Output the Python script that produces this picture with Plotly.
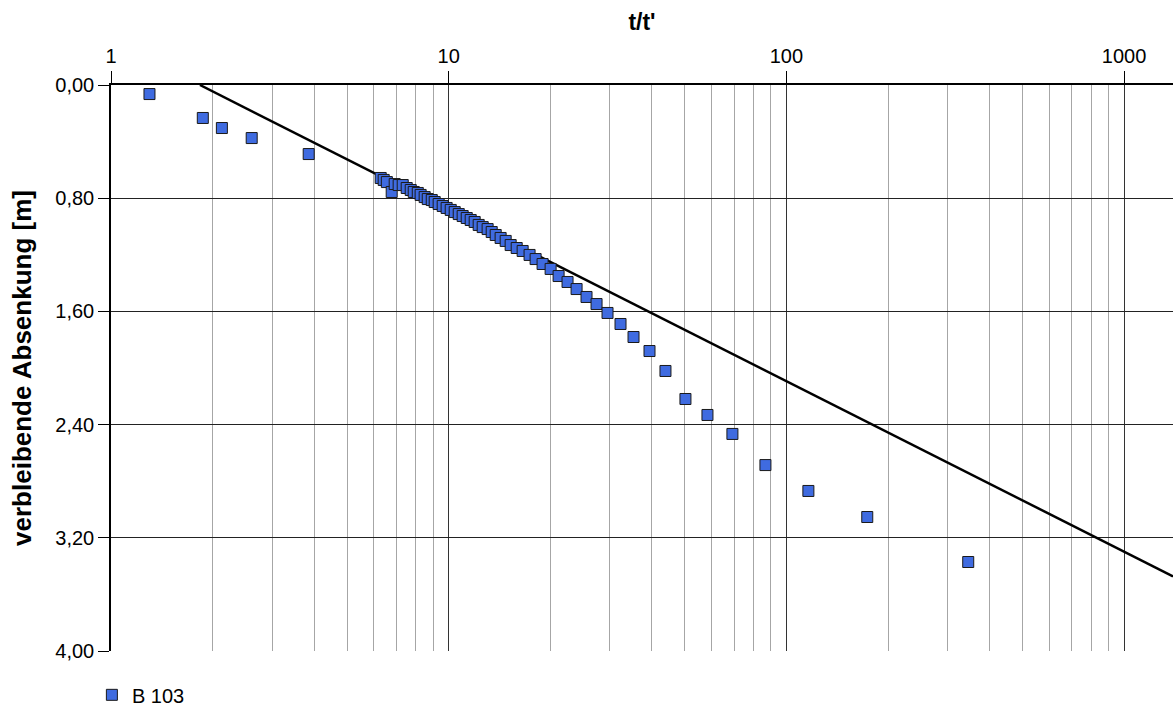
import plotly.graph_objects as go

# data: t/t' and residual drawdown (m)
t_ratio = [1.30, 1.87, 2.13, 2.61, 3.85,
           6.29, 6.42, 6.56, 6.78, 6.92, 7.11, 7.31, 7.51, 7.72, 7.88,
           8.10, 8.26, 8.49, 8.67, 8.91, 9.09, 9.34, 9.60, 9.86, 10.14,
           10.42, 10.71, 11.00, 11.31, 11.62, 11.94, 12.27, 12.61, 13.04, 13.41,
           13.78, 14.25, 14.75, 15.26, 15.90, 16.56, 17.36, 18.09, 18.97, 20.04,
           21.16, 22.49, 23.92, 25.60, 27.41, 29.54, 32.28, 35.27, 39.33, 43.85,
           50.25, 58.39, 69.22, 86.70, 116.2, 173.6, 345.6]
drawdown = [0.064, 0.233, 0.304, 0.375, 0.488,
            0.657, 0.671, 0.686, 0.756, 0.700, 0.707, 0.707, 0.728, 0.742, 0.756,
            0.763, 0.777, 0.792, 0.806, 0.813, 0.827, 0.841, 0.855, 0.869, 0.883,
            0.898, 0.912, 0.926, 0.940, 0.954, 0.968, 0.989, 1.004, 1.018, 1.039,
            1.060, 1.081, 1.102, 1.131, 1.152, 1.173, 1.201, 1.230, 1.265, 1.300,
            1.350, 1.392, 1.442, 1.498, 1.548, 1.611, 1.689, 1.781, 1.880, 2.021,
            2.219, 2.332, 2.466, 2.686, 2.869, 3.053, 3.371]

# fitted straight line (Theis recovery)
line_t = [1.834, 1396.0]
line_s = [0.0, 3.4725]

series_name = "B 103"
major_ticks = [1, 10, 100, 1000]
major_labels = ["1", "10", "100", "1000"]
minor_ticks = [m * d for d in [1, 10, 100, 1000] for m in range(2, 10)]
y_ticks = [0.0, 0.8, 1.6, 2.4, 3.2, 4.0]

FONT = "Liberation Sans, Arial, sans-serif"

fig = go.Figure()
fig.add_trace(go.Scatter(
    x=line_t, y=line_s, mode="lines",
    line=dict(color="black", width=2.5), showlegend=False, hoverinfo="skip"))
fig.add_trace(go.Scatter(
    x=t_ratio, y=drawdown, mode="markers", name=series_name,
    marker=dict(symbol="square", size=11, color="#3f6be0",
                line=dict(color="#1a1a1a", width=1))))

xr = [0, 3.145]
fig.update_layout(
    width=1173, height=709,
    paper_bgcolor="white", plot_bgcolor="white",
    margin=dict(l=111, r=0, t=85, b=58, autoexpand=False),
    separators=",.",
    font=dict(family=FONT, size=20, color="black"),
    xaxis=dict(type="log", range=xr, side="top",
               tickvals=major_ticks, ticktext=major_labels,
               ticks="outside", ticklen=12, tickcolor="black", tickwidth=1,
               showgrid=True, gridcolor="#333333", gridwidth=1,
               minor=dict(tickvals=minor_ticks, showgrid=True,
                          gridcolor="#a6a6a6", gridwidth=1, ticks=""),
               showline=True, linecolor="black", linewidth=1.5,
               zeroline=False, automargin=False,
               title=dict(text="<b>t/t'</b>", font=dict(size=23), standoff=8),
               tickfont=dict(size=20)),
    yaxis=dict(range=[4.0, 0.0], tickvals=y_ticks, tickformat=".2f",
               ticks="outside", ticklen=11, tickcolor="black",
               showgrid=True, gridcolor="#222222", gridwidth=1,
               showline=True, linecolor="black", linewidth=1.5,
               zeroline=False, automargin=False,
               title=dict(text="<b>verbleibende Absenkung [m]</b>",
                          font=dict(size=26), standoff=16),
               tickfont=dict(size=20)),
    legend=dict(x=-0.018, y=-0.043, xanchor="left", yanchor="top",
                orientation="h", font=dict(size=20),
                bgcolor="rgba(0,0,0,0)", itemwidth=30),
    showlegend=True,
)

post = ("document.body.style.margin='0';document.body.style.padding='0';"
        "var gd=document.getElementById('{plot_id}');"
        "Plotly.relayout(gd,{width:1173,height:709});")
fig.write_html("out.html", post_script=post, config={"displayModeBar": False})
